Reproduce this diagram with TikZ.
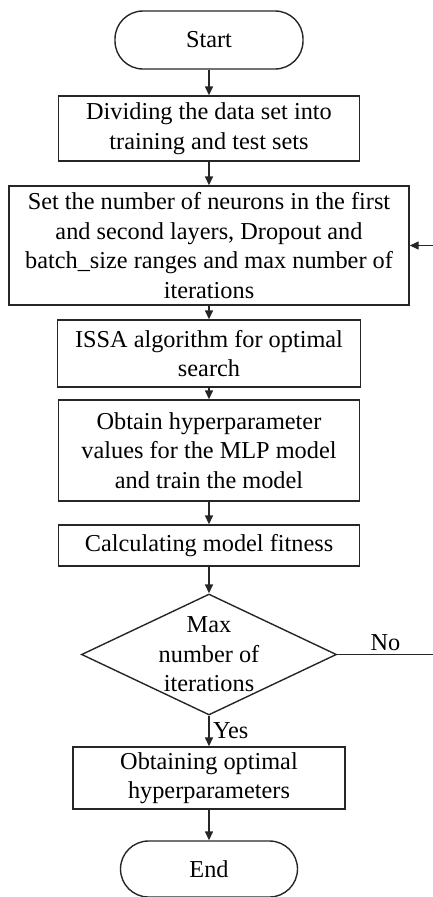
\documentclass[tikz,border=0pt]{standalone}
\usepackage{fontspec}
\setmainfont{Liberation Serif}
\usetikzlibrary{arrows.meta, shapes.geometric}

\begin{document}
\begin{tikzpicture}[x=1pt, y=-1pt,
  font=\fontsize{24.3}{29.5}\selectfont,
  box/.style={draw=black!85, line width=1.4pt, align=center, inner sep=3pt},
  term/.style={box, rounded corners=28pt, minimum height=58pt},
  decision/.style={draw=black!85, line width=1.4pt, diamond, aspect=2.1, inner sep=-2pt, align=center, minimum width=255pt, minimum height=121pt},
  arr/.style={-{Triangle[length=9pt,width=8pt]}, line width=1.4pt, draw=black!85}]
  \useasboundingbox (0,0) rectangle (432,897);
  % main column
  \node[term, minimum width=188pt] (start) at (209,40) {Start};
  \node[box, minimum width=301pt, minimum height=65pt] (split) at (209,128.5) {Dividing the data set into\\training and test sets};
  \node[box, minimum width=400pt, minimum height=119pt] (setup) at (209,245.5) {Set the number of neurons in the first\\and second layers, Dropout and\\batch\_size ranges and max number of\\iterations};
  \node[box, minimum width=303pt, minimum height=67pt] (issa) at (209,353.5) {ISSA algorithm for optimal\\search};
  \node[box, minimum width=301pt, minimum height=101pt] (hyper) at (209,450.5) {Obtain hyperparameter\\values for the MLP model\\and train the model};
  \node[box, minimum width=301pt, minimum height=41pt] (fit) at (209,545.5) {Calculating model fitness};
  \node[decision] (check) at (209,654.5) {Max\\number of\\iterations};
  \node[box, minimum width=272pt, minimum height=62pt] (best) at (209,778) {Obtaining optimal\\hyperparameters};
  \node[term, minimum width=177pt, minimum height=56pt] (end) at (209,869) {End};
  \coordinate (noR) at (433.5,654.5);

  \draw[arr] (start) -- (split);
  \draw[arr] (split) -- (setup);
  \draw[arr] (setup) -- (issa);
  \draw[arr] (issa) -- (hyper);
  \draw[arr] (hyper) -- (fit);
  \draw[arr] (fit) -- (check);
  \draw[arr] (check) -- node[right] {Yes} (best);
  \draw[arr] (best) -- (end);
  % loop back
  \draw[arr] (check.east) -- node[above] {No} (noR) |- (setup.east);
\end{tikzpicture}
\end{document}
